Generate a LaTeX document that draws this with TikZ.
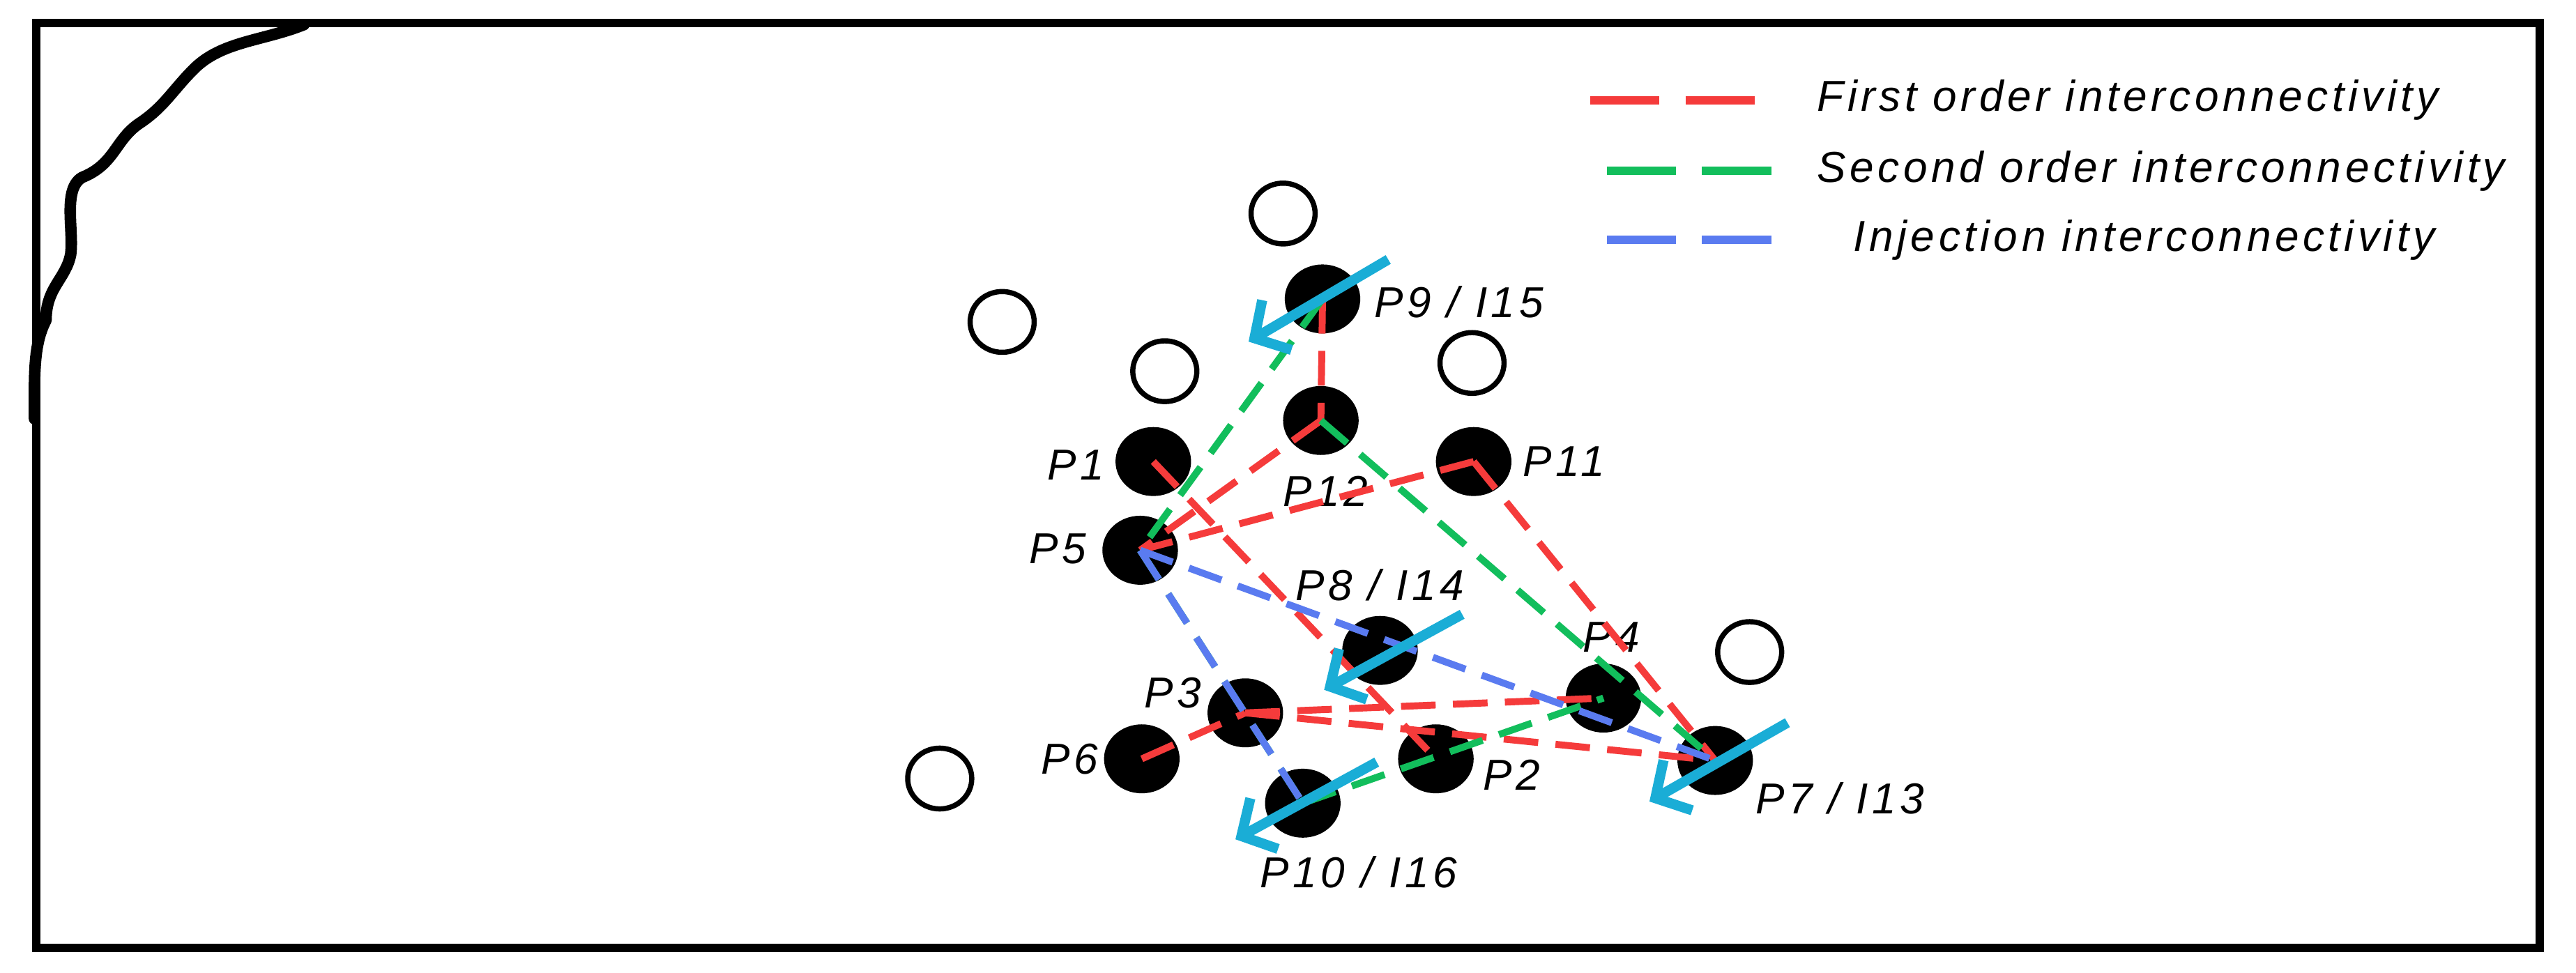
\documentclass[tikz,border=0pt]{standalone}
\usepackage{fontspec}
\setmainfont{Liberation Sans}[LetterSpace=9]
\usetikzlibrary{arrows.meta,shapes.geometric}
\definecolor{cr}{HTML}{F53B3B}
\definecolor{cg}{HTML}{12BE5C}
\definecolor{cb}{HTML}{5A7BF0}
\definecolor{cc}{HTML}{1AADD6}
\begin{document}
\begin{tikzpicture}[x=0.02cm,y=-0.02cm,
  pt/.style={ellipse,fill=black,minimum width=0.92cm,minimum height=0.84cm,inner sep=0},
  oc/.style={ellipse,draw=black,line width=1.8pt,minimum width=0.78cm,minimum height=0.74cm,inner sep=0},
  lab/.style={font=\fontsize{15}{17}\selectfont\itshape},
  ed/.style={line width=2.4pt,dash pattern=on 12pt off 6pt},
  red/.style={ed,cr}, grn/.style={ed,cg}, blu/.style={ed,cb},
  inj/.style={cc,line width=3.5pt,-{Straight Barb[length=9pt,width=20pt,line width=3.5pt]}},
  leg/.style={line width=2.8pt,dash pattern=on 24pt off 9pt}]
\useasboundingbox (0,0) rectangle (1568,592);
\draw[line width=2.8pt] (22,14) rectangle (1546,577);
\draw[line width=4pt,line cap=round,line join=round] (185,15) .. controls (160,25) and (135,25) .. (118,42) .. controls (105,55) and (100,65) .. (85,75) .. controls (70,85) and (70,100) .. (50,108) .. controls (38,115) and (45,140) .. (43,155) .. controls (40,170) and (28,175) .. (28,195) .. controls (20,210) and (21,230) .. (21,255);
% open circles
\foreach \n/\x/\y in {o1/781/130,o2/610/196,o3/709/226,o4/896/221,o5/1065/397,o6/572/474}
  \node[oc] (\n) at (\x,\y) {};
% nodes
\node[pt] (p9) at (805,182) {};
\node[pt] (p12) at (804,256) {};
\node[pt] (p1) at (702,281) {};
\node[pt] (p11) at (897,281) {};
\node[pt] (p5) at (694,335) {};
\node[pt] (p8) at (840,396) {};
\node[pt] (p4) at (976,425) {};
\node[pt] (p3) at (758,434) {};
\node[pt] (p6) at (695,462) {};
\node[pt] (p2) at (874,462) {};
\node[pt] (p7) at (1044,463) {};
\node[pt] (p10) at (793,489) {};
% labels
\node[lab] (l9) at (888,184) {P9 / I15};
\node[lab] (l1) at (655,283) {P1};
\node[lab] (l12) at (807,299) {P12};
\node[lab] (l11) at (952,281) {P11};
\node[lab] (l5) at (644,334) {P5};
\node[lab] (l8) at (840,356) {P8 / I14};
\node[lab] (l4) at (981,388) {P4};
\node[lab] (l3) at (714,422) {P3};
\node[lab] (l6) at (651,462) {P6};
\node[lab] (l2) at (920,472) {P2};
\node[lab] (l7) at (1120,486) {P7 / I13};
\node[lab] (l10) at (827,531) {P10 / I16};
% red
\draw[red] (p9.center) -- (p12.center);
\draw[red] (p12.center) -- (p5.center);
\draw[red] (p11.center) -- (p5.center);
\draw[red] (p1.center) -- (p2.center);
\draw[red] (p11.center) -- (p7.center);
\draw[red] (p6.center) -- (p3.center);
\draw[red] (p3.center) -- (p4.center);
\draw[red] (p3.center) -- (p7.center);
% green
\draw[grn] (p9.center) -- (p5.center);
\draw[grn] (p12.center) -- (p7.center);
\draw[grn] (p5.center) -- (p10.center);
\draw[grn] (p10.center) -- (p4.center);
% blue
\draw[blu] (p5.center) -- (p7.center);
\draw[blu] (p5.center) -- (p10.center);
% injection arrows
\coordinate (a9) at (845,158); \coordinate (b9) at (760,208);
\coordinate (a8) at (890,374); \coordinate (b8) at (806,420);
\coordinate (a10) at (838,464); \coordinate (b10) at (752,511);
\coordinate (a7) at (1088,440); \coordinate (b7) at (1004,488);
\draw[inj] (a9) -- (b9);
\draw[inj] (a8) -- (b8);
\draw[inj] (a10) -- (b10);
\draw[inj] (a7) -- (b7);
% legend
\coordinate (r1) at (968,61); \coordinate (r2) at (1075,61);
\coordinate (g1) at (978,104); \coordinate (g2) at (1085,104);
\coordinate (u1) at (978,146); \coordinate (u2) at (1085,146);
\draw[leg,cr] (r1) -- (r2);
\draw[leg,cg] (g1) -- (g2);
\draw[leg,cb] (u1) -- (u2);
\node[lab,anchor=west] (t1) at (1100,61) {First order interconnectivity};
\node[lab,anchor=west] (t2) at (1100,104) {Second order interconnectivity};
\node[lab,anchor=west] (t3) at (1122,146) {Injection interconnectivity};
\end{tikzpicture}
\end{document}
